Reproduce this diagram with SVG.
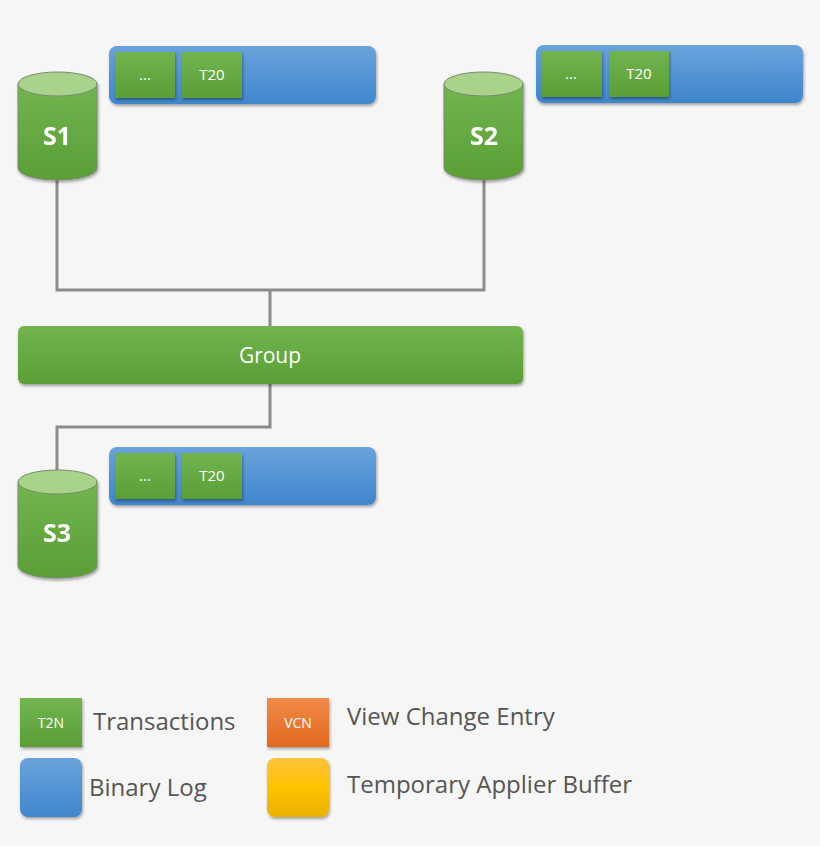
<svg xmlns="http://www.w3.org/2000/svg" width="820" height="846" viewBox="0 0 820 846">
<defs>
<linearGradient id="gG" x1="0" y1="0" x2="0" y2="1"><stop offset="0" stop-color="#72b550"/><stop offset="1" stop-color="#5a9e35"/></linearGradient>
<linearGradient id="gB" x1="0" y1="0" x2="0" y2="1"><stop offset="0" stop-color="#6aa3dc"/><stop offset="1" stop-color="#3f86cc"/></linearGradient>
<linearGradient id="gO" x1="0" y1="0" x2="0" y2="1"><stop offset="0" stop-color="#ee8a4a"/><stop offset="1" stop-color="#e3691e"/></linearGradient>
<linearGradient id="gY" x1="0" y1="0" x2="0" y2="1"><stop offset="0" stop-color="#fdc33c"/><stop offset="0.5" stop-color="#ffc300"/><stop offset="1" stop-color="#e9b000"/></linearGradient>
<filter id="sh" x="-10%" y="-10%" width="120%" height="130%"><feDropShadow dx="1" dy="2" stdDeviation="1.5" flood-color="#000" flood-opacity="0.35"/></filter>
<symbol id="cyl" overflow="visible">
<path d="M0,12 V96 A39.5,12 0 0 0 79,96 V12 Z" fill="url(#gG)" stroke="#7a8a70" stroke-width="1"/>
<ellipse cx="39.5" cy="12" rx="39.5" ry="12" fill="#a9d38b" stroke="#7a8a70" stroke-width="1"/>
</symbol>
</defs>
<style>
text{font-family:"Open Sans","Liberation Sans",sans-serif}
.cell{fill:url(#gG);filter:url(#sh)}
.log{fill:url(#gB);filter:url(#sh)}
.ct{fill:#fff;font-size:15px;text-anchor:middle}
.st{fill:#fff;font-size:25px;font-weight:bold;text-anchor:middle}
.lg{fill:#555;font-size:24px}
.conn{fill:none;stroke:#8c8c8c;stroke-width:3}
</style>
<rect width="820" height="846" fill="#f6f6f6"/>
<g id="connectors">
<path class="conn" d="M57,180 V290 H484 V180 M270,290 V326"/>
<path class="conn" d="M270,384 V427 H57 V472"/>
</g>
<g id="log1"><rect class="log" x="109" y="46" width="267" height="58" rx="8"/>
<rect class="cell" x="115" y="52" width="60" height="46"/><text class="ct" x="145" y="80">...</text>
<rect class="cell" x="182" y="52" width="60" height="46"/><text class="ct" x="212" y="80">T20</text></g>
<g id="S1" filter="url(#sh)"><use href="#cyl" x="18" y="72"/><text class="st" x="57" y="145">S1</text></g>
<g id="log2"><rect class="log" x="536" y="45" width="267" height="58" rx="8"/>
<rect class="cell" x="541" y="51" width="61" height="46"/><text class="ct" x="571" y="79">...</text>
<rect class="cell" x="609" y="51" width="60" height="46"/><text class="ct" x="639" y="79">T20</text></g>
<g id="S2" filter="url(#sh)"><use href="#cyl" x="444" y="72"/><text class="st" x="484" y="145">S2</text></g>
<g id="group"><rect x="18" y="326" width="505" height="58" rx="6" fill="url(#gG)" filter="url(#sh)"/>
<text x="270" y="363" fill="#fff" font-size="21" text-anchor="middle">Group</text></g>
<g id="log3"><rect class="log" x="109" y="447" width="267" height="58" rx="8"/>
<rect class="cell" x="115" y="453" width="60" height="46"/><text class="ct" x="145" y="481">...</text>
<rect class="cell" x="182" y="453" width="60" height="46"/><text class="ct" x="212" y="481">T20</text></g>
<g id="S3" filter="url(#sh)"><use href="#cyl" x="18" y="470"/><text class="st" x="57" y="542">S3</text></g>
<g id="legend">
<rect class="cell" x="20" y="698" width="62" height="49"/><text x="51" y="728" fill="#fff" font-size="14" text-anchor="middle">T2N</text>
<text class="lg" x="93" y="730">Transactions</text>
<rect x="267" y="698" width="62" height="49" fill="url(#gO)" filter="url(#sh)"/><text x="298" y="728" fill="#fff" font-size="14" text-anchor="middle">VCN</text>
<text class="lg" x="347" y="725">View Change Entry</text>
<rect class="log" x="20" y="758" width="62" height="59" rx="8"/>
<text class="lg" x="89" y="796">Binary Log</text>
<rect x="267" y="758" width="62" height="59" rx="8" fill="url(#gY)" filter="url(#sh)"/>
<text class="lg" x="347" y="793">Temporary Applier Buffer</text>
</g>
</svg>
